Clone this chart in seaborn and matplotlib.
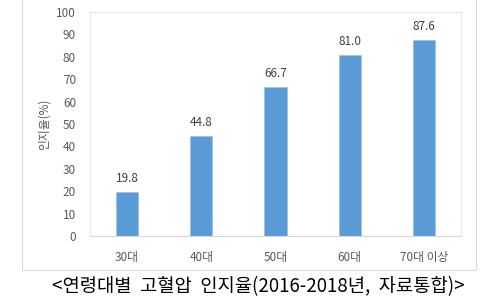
import matplotlib
matplotlib.use("Agg")
import matplotlib.pyplot as plt
import seaborn as sns
import pandas as pd
from matplotlib.patches import Rectangle

categories = ["30대", "40대", "50대", "60대", "70대 이상"]
values = [19.8, 44.8, 66.7, 81.0, 87.6]
yticks = [0, 10, 20, 30, 40, 50, 60, 70, 80, 90, 100]

sns.set_theme(style="white")
plt.rcParams['font.family'] = ['Noto Sans CJK KR', 'DejaVu Sans']

df = pd.DataFrame({"cat": categories, "val": values})

fig = plt.figure(figsize=(4.97, 3.04), dpi=100)
ax = fig.add_axes([90/497, 1 - 236/304, (461-90)/497, (236-12)/304])

sns.barplot(data=df, x="cat", y="val", color="#5B9BD5", width=0.3, ax=ax,
            saturation=1, edgecolor="#9DC3E6", linewidth=0.6)

ax.set_ylim(0, 100)
ax.set_yticks(yticks)
ax.set_yticklabels([str(t) for t in yticks])
ax.set_xlabel("")
ax.set_ylabel("인지율(%)", color="#595959", fontsize=8.5, labelpad=4)
ax.tick_params(axis='both', colors="#595959", labelsize=8.5, length=0)
ax.tick_params(axis='y', pad=10)
ax.tick_params(axis='x', pad=11)

for spine in ax.spines.values():
    spine.set_color("#E6E6E6")
    spine.set_linewidth(0.8)
ax.spines['bottom'].set_color("#D9D9D9")

for i, v in enumerate(values):
    ax.text(i, v + 3, f"{v:.1f}", ha="center", va="bottom", fontsize=8.5, color="#404040")

# outer chart frame
fig.patches.append(Rectangle((22/497, 1 - 270/304), (476-22)/497, 272/304,
                             transform=fig.transFigure, fill=False,
                             edgecolor="#D9D9D9", linewidth=0.8))

fig.text(0.52, 1 - 287/304, "<연령대별  고혈압  인지율(2016-2018년,  자료통합)>",
         ha="center", va="center", fontsize=13.5, color="black")

fig.savefig("out.png", dpi=100)
